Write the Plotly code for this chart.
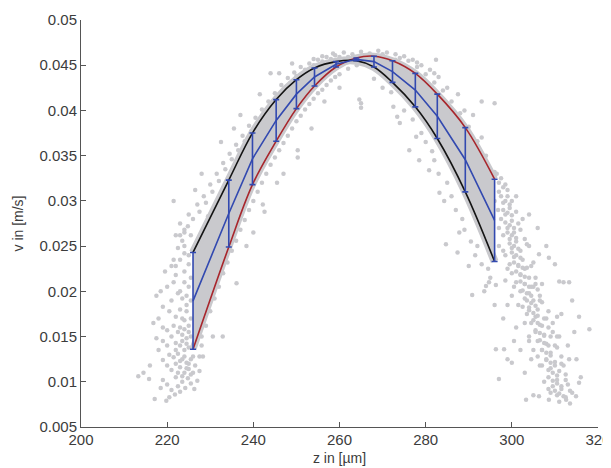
import plotly.graph_objects as go

# ---- data ----
z_bars = [226.0, 234.3, 239.8, 245.3, 250.0, 254.2, 259.2, 263.9, 268.0, 272.3, 277.6, 282.7, 289.2, 296.0]
v_black = [0.0243, 0.0323, 0.0375, 0.0412, 0.0434, 0.0447, 0.0454, 0.0455, 0.0448, 0.0431, 0.0404, 0.0369, 0.0310, 0.0233]
v_red = [0.0136, 0.0249, 0.0318, 0.0366, 0.0402, 0.0427, 0.0448, 0.0458, 0.0460, 0.0455, 0.0441, 0.0418, 0.0381, 0.0324]

x_tickvals = [200, 220, 240, 260, 280, 300, 320]
x_ticktext = ["200", "220", "240", "260", "280", "300", "320"]
y_tickvals = [0.005, 0.01, 0.015, 0.02, 0.025, 0.03, 0.035, 0.04, 0.045, 0.05]
y_ticktext = ["0.005", "0.01", "0.015", "0.02", "0.025", "0.03", "0.035", "0.04", "0.045", "0.05"]

cloud_left_tail = [
    (213.3, 0.0106), (214.5, 0.0110), (216.0, 0.0118), (215.8, 0.0103), (217.1, 0.0081), (219.8, 0.0079),
    (220.5, 0.0083), (218.5, 0.0093), (219.0, 0.0102), (220.0, 0.0097), (221.0, 0.0091), (221.8, 0.0086),
    (222.5, 0.0095), (223.0, 0.0089), (222.0, 0.0105), (223.5, 0.0100), (224.2, 0.0093), (224.8, 0.0104),
    (225.5, 0.0098), (226.3, 0.0092), (227.0, 0.0101), (226.0, 0.0110), (225.0, 0.0114), (224.0, 0.0110),
    (223.0, 0.0116), (222.0, 0.0120), (221.0, 0.0113), (220.0, 0.0118), (219.0, 0.0124), (220.5, 0.0130),
    (221.5, 0.0127), (222.5, 0.0131), (223.5, 0.0125), (224.5, 0.0121), (225.5, 0.0125), (226.5, 0.0118),
    (227.5, 0.0112), (218.0, 0.0135), (217.5, 0.0148), (219.0, 0.0145), (220.0, 0.0140), (221.0, 0.0150),
    (222.0, 0.0143), (223.0, 0.0140), (224.0, 0.0135), (225.0, 0.0138), (227.5, 0.0128), (228.0, 0.0140),
    (216.8, 0.0165), (218.0, 0.0170), (219.0, 0.0160), (220.0, 0.0157), (221.5, 0.0162), (222.5, 0.0155),
    (223.5, 0.0152), (224.5, 0.0148), (219.0, 0.0183), (220.5, 0.0178), (221.0, 0.0190), (222.0, 0.0172),
    (223.0, 0.0180), (224.0, 0.0168), (225.0, 0.0162), (217.5, 0.0195), (218.5, 0.0200), (220.0, 0.0205),
    (221.5, 0.0210), (222.5, 0.0198), (223.5, 0.0192), (224.5, 0.0185), (219.5, 0.0222), (221.0, 0.0228),
    (222.0, 0.0218), (223.0, 0.0235), (224.0, 0.0210), (225.0, 0.0205), (222.5, 0.0248), (223.5, 0.0256),
    (224.0, 0.0242), (225.0, 0.0230), (225.5, 0.0262), (224.8, 0.0272), (226.8, 0.0150), (227.2, 0.0165),
    (222.5, 0.0110), (223.5, 0.0106), (224.5, 0.0115), (225.5, 0.0108), (223.0, 0.0123), (224.0, 0.0128),
    (225.0, 0.0120), (226.0, 0.0128), (222.0, 0.0135), (223.5, 0.0145), (224.5, 0.0142), (225.5, 0.0150),
    (226.0, 0.0140), (223.0, 0.0160), (224.0, 0.0158), (225.0, 0.0155), (225.5, 0.0170), (224.5, 0.0178),
    (223.5, 0.0170), (225.5, 0.0190), (224.5, 0.0195), (223.0, 0.0200), (225.5, 0.0215), (224.0, 0.0222),
    (222.0, 0.0228), (225.0, 0.0240), (224.0, 0.0250), (221.5, 0.0235), (223.0, 0.0262), (224.0, 0.0265),
]

cloud_left_arm = [
    (222.0, 0.0262), (223.0, 0.0275), (224.0, 0.0268), (225.0, 0.0285), (226.0, 0.0280), (227.0, 0.0296),
    (227.5, 0.0288), (228.5, 0.0305), (229.0, 0.0298), (230.0, 0.0318), (230.5, 0.0310), (231.5, 0.0330),
    (232.0, 0.0322), (233.0, 0.0342), (233.5, 0.0335), (234.5, 0.0352), (235.0, 0.0346), (236.0, 0.0362),
    (236.5, 0.0356), (237.5, 0.0372), (238.0, 0.0366), (239.0, 0.0383), (239.5, 0.0377), (240.5, 0.0392),
    (241.0, 0.0386), (242.0, 0.0401), (242.5, 0.0396), (243.5, 0.0410), (244.0, 0.0404), (245.0, 0.0419),
    (245.5, 0.0413), (246.5, 0.0428), (247.0, 0.0422), (248.0, 0.0436), (248.5, 0.0430), (249.5, 0.0442),
    (250.0, 0.0438), (251.0, 0.0448), (252.0, 0.0445), (253.0, 0.0452), (254.0, 0.0450), (255.0, 0.0456),
    (256.0, 0.0454), (257.0, 0.0459), (258.0, 0.0457), (259.0, 0.0461), (260.0, 0.0459),
    (221.5, 0.0300), (228.0, 0.0330), (232.5, 0.0365), (237.0, 0.0395), (244.0, 0.0441), (246.0, 0.0441),
    (249.0, 0.0452), (226.5, 0.0312), (235.5, 0.0380), (241.5, 0.0418), (229.5, 0.0283), (234.0, 0.0320),
    (228.0, 0.0150), (229.0, 0.0162), (230.0, 0.0178), (231.0, 0.0192), (232.0, 0.0205), (233.0, 0.0220),
    (234.0, 0.0232), (235.0, 0.0245), (236.0, 0.0256), (237.0, 0.0268), (238.0, 0.0279), (239.0, 0.0290),
    (240.0, 0.0300), (241.0, 0.0310), (242.0, 0.0320), (243.0, 0.0330), (244.0, 0.0340), (245.0, 0.0348),
    (246.0, 0.0356), (247.0, 0.0364), (248.0, 0.0372), (249.0, 0.0380), (250.0, 0.0388), (251.0, 0.0394),
    (252.0, 0.0401), (253.0, 0.0407), (254.0, 0.0413), (255.0, 0.0419), (256.0, 0.0423), (257.0, 0.0428),
    (258.0, 0.0433), (259.0, 0.0437), (260.0, 0.0440), (262.0, 0.0446), (264.0, 0.0450),
    (236.1, 0.0209), (238.4, 0.0250), (242.6, 0.0288), (242.2, 0.0296), (230.6, 0.0150), (232.9, 0.0150),
    (228.3, 0.0128), (250.3, 0.0348), (250.3, 0.0356), (256.5, 0.0410), (260.0, 0.0425), (264.6, 0.0412),
    (265.0, 0.0403), (265.0, 0.0408), (245.5, 0.0320), (247.0, 0.0330), (240.0, 0.0265), (253.5, 0.0380),
]

cloud_top = [
    (258.5, 0.0463), (261.0, 0.0464), (263.0, 0.0462), (265.0, 0.0465), (267.0, 0.0463), (269.0, 0.0466),
    (271.0, 0.0464), (273.0, 0.0462), (275.0, 0.0460), (277.0, 0.0456), (279.0, 0.0450), (281.0, 0.0445),
    (283.0, 0.0437), (262.0, 0.0459), (266.0, 0.0461), (270.0, 0.0462), (274.0, 0.0458), (278.0, 0.0453),
    (282.0, 0.0441), (282.4, 0.0456), (273.0, 0.0456), (256.0, 0.0460), (254.0, 0.0457),
]

cloud_right_arm = [
    (276.0, 0.0455), (278.0, 0.0448), (280.0, 0.0440), (282.0, 0.0431), (284.0, 0.0422), (286.0, 0.0410),
    (288.0, 0.0397), (290.0, 0.0382), (292.0, 0.0366), (294.0, 0.0350), (296.0, 0.0332), (285.0, 0.0425),
    (289.0, 0.0400), (293.0, 0.0370), (293.0, 0.0410), (296.0, 0.0408), (291.0, 0.0395), (287.5, 0.0418),
    (268.0, 0.0435), (270.0, 0.0425), (272.0, 0.0420), (272.5, 0.0404), (273.4, 0.0393), (274.0, 0.0386),
    (275.0, 0.0400), (276.2, 0.0356), (277.8, 0.0371), (278.5, 0.0345), (277.0, 0.0390), (279.0, 0.0375),
    (280.0, 0.0365), (280.8, 0.0334), (281.5, 0.0355), (282.0, 0.0345), (283.2, 0.0309), (284.3, 0.0300),
    (283.0, 0.0330), (284.7, 0.0252), (285.0, 0.0320), (286.0, 0.0305), (287.8, 0.0265), (287.4, 0.0243),
    (287.0, 0.0290), (288.5, 0.0280), (289.0, 0.0268), (290.0, 0.0228), (290.8, 0.0196), (290.5, 0.0255),
    (291.5, 0.0240), (292.0, 0.0250), (293.0, 0.0230), (294.0, 0.0206), (296.3, 0.0207), (294.5, 0.0225),
    (295.0, 0.0215), (293.6, 0.0200), (294.7, 0.0210), (292.5, 0.0275), (294.0, 0.0262), (295.5, 0.0245),
]

cloud_right_tail = [
    (296.5, 0.0330), (297.5, 0.0325), (298.5, 0.0318), (297.0, 0.0310), (299.0, 0.0305), (298.0, 0.0298),
    (300.0, 0.0300), (296.8, 0.0290), (299.5, 0.0292), (301.0, 0.0288), (297.5, 0.0280), (298.5, 0.0285),
    (300.0, 0.0278), (301.5, 0.0275), (299.0, 0.0270), (300.5, 0.0265), (302.0, 0.0268), (298.0, 0.0262),
    (299.5, 0.0258), (301.0, 0.0255), (303.0, 0.0258), (297.0, 0.0250), (300.0, 0.0248), (302.0, 0.0245),
    (304.0, 0.0250), (298.5, 0.0240), (300.5, 0.0238), (302.5, 0.0235), (299.5, 0.0230), (301.5, 0.0228),
    (303.5, 0.0226), (305.0, 0.0232), (300.0, 0.0220), (302.0, 0.0218), (304.0, 0.0215), (301.0, 0.0210),
    (303.0, 0.0208), (305.0, 0.0205), (302.0, 0.0200), (304.0, 0.0198), (306.0, 0.0202), (298.5, 0.0212),
    (303.0, 0.0192), (305.0, 0.0190), (307.0, 0.0188), (304.0, 0.0182), (306.0, 0.0180), (303.5, 0.0175),
    (305.5, 0.0172), (307.5, 0.0170), (304.5, 0.0165), (306.5, 0.0163), (308.5, 0.0160), (305.5, 0.0155),
    (307.5, 0.0152), (309.0, 0.0150), (306.0, 0.0145), (308.0, 0.0142), (310.0, 0.0140), (307.0, 0.0135),
    (309.0, 0.0132), (308.0, 0.0125), (310.0, 0.0122), (311.5, 0.0128), (309.0, 0.0115), (311.0, 0.0112),
    (308.5, 0.0105), (310.5, 0.0102), (312.5, 0.0108), (309.5, 0.0095), (311.5, 0.0092), (313.0, 0.0097),
    (310.5, 0.0085), (312.5, 0.0083), (314.0, 0.0088), (311.0, 0.0078), (313.5, 0.0076), (303.3, 0.0080),
    (305.0, 0.0085), (318.0, 0.0158), (315.6, 0.0172), (314.0, 0.0190), (312.0, 0.0210), (310.0, 0.0230),
    (308.0, 0.0250), (306.0, 0.0270), (304.0, 0.0285), (297.0, 0.0103), (299.0, 0.0125), (300.5, 0.0145),
    (301.0, 0.0160), (298.0, 0.0170), (302.0, 0.0135), (315.0, 0.0125), (316.0, 0.0105), (313.0, 0.0140),
    (311.5, 0.0175), (296.0, 0.0185), (299.0, 0.0185), (300.0, 0.0195), (303.0, 0.0110), (304.5, 0.0125),
    (314.5, 0.0155), (296.3, 0.0136), (298.2, 0.0136), (300.0, 0.0121), (306.3, 0.0084), (308.6, 0.0080),
    (312.6, 0.0080), (314.9, 0.0084), (315.6, 0.0099), (313.3, 0.0125), (311.0, 0.0150), (310.5, 0.0172),
    (311.0, 0.0211), (313.3, 0.0210), (308.6, 0.0237), (306.3, 0.0241), (302.5, 0.0183), (304.5, 0.0205),
    (306.5, 0.0195), (308.5, 0.0178), (303.0, 0.0225), (305.5, 0.0215), (307.0, 0.0208), (309.5, 0.0165),
    (310.5, 0.0150), (307.0, 0.0118), (309.0, 0.0088), (312.0, 0.0118), (306.0, 0.0128), (304.0, 0.0145),
]

cloud_tail_core = [
    (297.0, 0.0320), (298.0, 0.0315), (299.0, 0.0312), (297.5, 0.0305), (298.5, 0.0300), (299.5, 0.0296),
    (298.0, 0.0290), (299.0, 0.0287), (300.0, 0.0284), (298.5, 0.0276), (299.5, 0.0273), (300.5, 0.0270),
    (299.0, 0.0265), (300.0, 0.0262), (301.0, 0.0259), (299.5, 0.0253), (300.5, 0.0250), (301.5, 0.0247),
    (300.0, 0.0243), (301.0, 0.0240), (302.0, 0.0237), (300.5, 0.0232), (301.5, 0.0229), (302.5, 0.0226),
    (301.0, 0.0222), (302.0, 0.0219), (303.0, 0.0216), (302.0, 0.0211), (303.0, 0.0208), (304.0, 0.0205),
    (302.5, 0.0201), (303.5, 0.0198), (304.5, 0.0195), (303.5, 0.0190), (304.5, 0.0187), (305.5, 0.0184),
    (304.0, 0.0179), (305.0, 0.0176), (306.0, 0.0173), (305.0, 0.0168), (306.0, 0.0165), (307.0, 0.0162),
    (305.5, 0.0157), (306.5, 0.0154), (307.5, 0.0151), (306.5, 0.0146), (307.5, 0.0143), (308.5, 0.0140),
    (307.0, 0.0135), (308.0, 0.0132), (309.0, 0.0129), (308.0, 0.0124), (309.0, 0.0121), (310.0, 0.0118),
    (308.5, 0.0113), (309.5, 0.0110), (310.5, 0.0107), (309.5, 0.0101), (310.5, 0.0098), (311.5, 0.0095),
    (310.0, 0.0090), (311.0, 0.0087), (312.0, 0.0084),
    (296.0, 0.0300), (301.0, 0.0305), (297.0, 0.0270), (302.5, 0.0280), (298.0, 0.0245), (303.5, 0.0252),
    (299.0, 0.0225), (304.5, 0.0228), (300.5, 0.0205), (305.5, 0.0208), (301.5, 0.0185), (306.5, 0.0190),
    (303.0, 0.0165), (308.0, 0.0170), (304.0, 0.0150), (309.5, 0.0155), (305.0, 0.0135), (310.5, 0.0138),
    (306.5, 0.0118), (311.5, 0.0120), (307.5, 0.0100), (312.5, 0.0102), (308.5, 0.0092), (313.5, 0.0090),
]

# ---- styling ----
GRAY = "#C9C9CD"
BLUE = "#3249B0"
BLACK = "#141414"
RED = "#A8262C"
AXIS = "#555555"
TEXT = "#3C3C3C"

cloud = cloud_left_tail + cloud_left_arm + cloud_top + cloud_right_arm + cloud_right_tail + cloud_tail_core
cloud_z = [p[0] for p in cloud]
cloud_v = [p[1] for p in cloud]

v_blue = [(b + r) / 2 for b, r in zip(v_black, v_red)]
v_err = [abs(b - r) / 2 for b, r in zip(v_black, v_red)]

fig = go.Figure()
fig.add_trace(go.Scatter(x=cloud_z, y=cloud_v, mode="markers",
                         marker=dict(size=4.5, color=GRAY, line=dict(width=0)), hoverinfo="skip"))
# dense band of measured points around / between the fitted curves
fig.add_trace(go.Scatter(x=z_bars, y=v_black, mode="lines", line=dict(width=8, shape="spline", color=GRAY),
                         hoverinfo="skip"))
fig.add_trace(go.Scatter(x=z_bars, y=v_red, mode="lines", line=dict(width=7, shape="spline", color=GRAY),
                         fill="tonexty", fillcolor=GRAY, hoverinfo="skip"))
fig.add_trace(go.Scatter(x=z_bars, y=v_red, mode="lines", line=dict(width=1.6, shape="spline", color=RED)))
fig.add_trace(go.Scatter(x=z_bars, y=v_black, mode="lines", line=dict(width=1.6, shape="spline", color=BLACK)))
fig.add_trace(go.Scatter(x=z_bars, y=v_blue, mode="lines", line=dict(width=1.6, color=BLUE),
                         error_y=dict(type="data", array=v_err, color=BLUE, thickness=1.6, width=3)))

# the page adds an 8 px body margin, so the figure is shifted accordingly
fig.update_layout(
    width=603, height=460,
    margin=dict(l=73, r=13, t=12, b=41, autoexpand=False),
    paper_bgcolor="white", plot_bgcolor="white",
    showlegend=False,
    font=dict(family="Liberation Sans, Arial, sans-serif", size=15, color=TEXT),
)
fig.update_xaxes(range=[200, 320], tickvals=x_tickvals, ticktext=x_ticktext, automargin=False,
                 showgrid=False, zeroline=False, showline=True, linecolor=AXIS, linewidth=1,
                 ticks="inside", ticklen=5, tickcolor=AXIS, mirror=False, ticklabelstandoff=-1,
                 title=dict(text="z in [µm]", standoff=6, font=dict(size=14)))
fig.update_yaxes(range=[0.005, 0.05], tickvals=y_tickvals, ticktext=y_ticktext, automargin=False,
                 showgrid=False, zeroline=False, showline=True, linecolor=AXIS, linewidth=1,
                 ticks="inside", ticklen=5, tickcolor=AXIS, mirror=False,
                 title=dict(text="v in [m/s]", standoff=12, font=dict(size=14)))

fig.write_html("out.html")
